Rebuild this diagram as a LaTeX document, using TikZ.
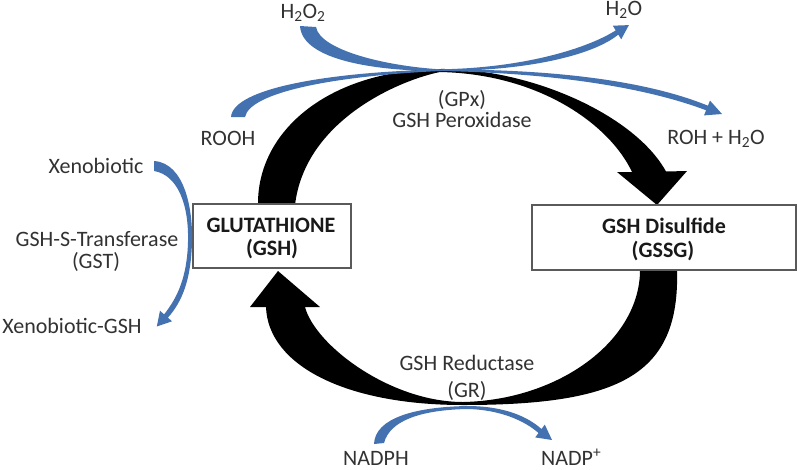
\documentclass[tikz,border=0pt]{standalone}
\usepackage{fontspec}
\setmainfont{Carlito}
\definecolor{bl}{RGB}{68,114,176}
\definecolor{txt}{RGB}{50,50,50}
\definecolor{boxc}{RGB}{90,90,90}
\definecolor{bold}{RGB}{25,25,25}
\begin{document}
\begin{tikzpicture}[x=1pt,y=-1pt,
  lbl/.style={font=\fontsize{22}{25}\selectfont, text=txt, inner sep=0pt, anchor=base},
  blbl/.style={font=\fontsize{22}{25}\selectfont\bfseries, text=bold, inner sep=0pt, anchor=base},
  bx/.style={draw=boxc, line width=1.3pt, fill=white, inner sep=0pt},
  blk/.style={fill=black},
  bluea/.style={fill=bl}]
\useasboundingbox (0,0) rectangle (797,469);

% black cycle arrows
\fill[blk] (258,205) .. controls (257,130) and (330,70) .. (440,69)
 .. controls (530,68) and (635,115) .. (666,171.5)
 -- (687,171) -- (657,205) -- (617,172) -- (632,172)
 .. controls (610,125) and (540,74) .. (440,72)
 .. controls (400,80) and (305,120) .. (295,205) -- cycle;
\fill[blk] (677,270) .. controls (680,375) and (620,405) .. (463,405)
 .. controls (345,405) and (268,365) .. (266,307)
 -- (250,307) -- (278,271) -- (320,307) -- (305,307)
 .. controls (315,345) and (390,402) .. (463,402)
 .. controls (560,400) and (640,340) .. (640,270) -- cycle;

% boxes
\node[bx, minimum width=158pt, minimum height=64pt] (gshbox) at (272,236) {};
\node[bx, minimum width=264pt, minimum height=65pt] (gssgbox) at (664,237.5) {};

% blue arrows
\fill[bluea] (300,26) -- (316,27)
 .. controls (320,50) and (385,66) .. (440,69.3)
 .. controls (525,68) and (588,48) .. (615.7,30.4)
 -- (612.8,25.7) -- (628.9,25.1) -- (621.2,39.3) -- (618.3,34.6)
 .. controls (592,56) and (525,71) .. (440,71)
 .. controls (375,71) and (302,60) .. (300,26) -- cycle;
\fill[bluea] (231,117) .. controls (233,88) and (330,72) .. (440,69.5)
 .. controls (560,69) and (650,82) .. (707.9,105.7)
 -- (710,100.6) -- (722,114) -- (704,115.4) -- (706.1,110.3)
 .. controls (650,89) and (560,73) .. (440,71)
 .. controls (335,76) and (250,92) .. (245,117) -- cycle;
\fill[bluea] (154,161) .. controls (185,163) and (193,210) .. (192,242)
 .. controls (191,280) and (182,302) .. (167.9,317.6)
 -- (172,321.3) -- (156.8,326.5) -- (160,310.7) -- (164.1,314.4)
 .. controls (177,298) and (187,278) .. (188,242)
 .. controls (189,205) and (178,175) .. (154,171) -- cycle;
\fill[bluea] (374,444) .. controls (375,418) and (415,407) .. (467,406)
 .. controls (505,406) and (528,417) .. (541.5,429)
 -- (544.8,424.6) -- (552,440) -- (535.2,437.4) -- (538.5,433)
 .. controls (525,421) and (500,409.5) .. (467,409)
 .. controls (422,410) and (390,420) .. (384,443) -- cycle;

% labels
\node[lbl] (h2o2) at (303,18) {H\textsubscript{2}O\textsubscript{2}};
\node[lbl] (h2o) at (624,15) {H\textsubscript{2}O};
\node[lbl] (rooh) at (228,145) {ROOH};
\node[lbl] (gpx) at (462,106) {(GPx)};
\node[lbl] (gpxname) at (462,127) {GSH Peroxidase};
\node[lbl] (roh) at (716,144) {ROH + H\textsubscript{2}O};
\node[lbl] (xeno) at (96,173) {Xenobiotic};
\node[lbl] (gst1) at (97,246) {GSH-S-Transferase};
\node[lbl] (gst2) at (96,268) {(GST)};
\node[lbl] (xenogsh) at (72,333) {Xenobiotic-GSH};
\node[blbl] (glut1) at (271,232) {GLUTATHIONE};
\node[blbl] (glut2) at (272,255) {(GSH)};
\node[blbl] (gssg1) at (664,233) {GSH Disulfide};
\node[blbl] (gssg2) at (663,257) {(GSSG)};
\node[lbl] (gr1) at (467,370) {GSH Reductase};
\node[lbl] (gr2) at (467,397) {(GR)};
\node[lbl] (nadph) at (376,465) {NADPH};
\node[lbl, anchor=base west] (nadp) at (541,465) {NADP\textsuperscript{+}};
\end{tikzpicture}
\end{document}
